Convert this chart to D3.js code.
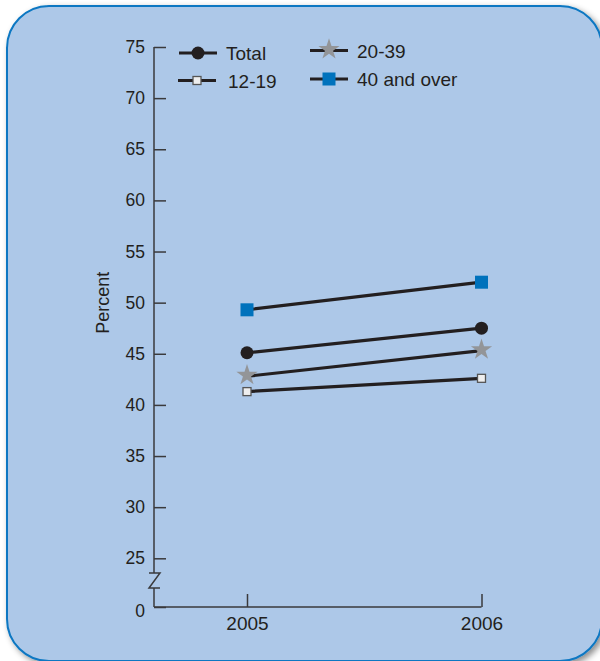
<!DOCTYPE html>
<html>
<head>
<meta charset="utf-8">
<script src="https://cdn.jsdelivr.net/npm/d3@7"></script>
<style>
  html, body { margin: 0; padding: 0; background: #ffffff; }
  svg { display: block; }
  text { font-family: "Liberation Sans", Arial, Helvetica, sans-serif; fill: #231f20; }
</style>
</head>
<body>
<svg id="chart" width="600" height="661"></svg>
<script>
// Share of people by age group, 2005 and 2006 (percent)
const years = [2005, 2006];
const seriesNames = ["Total", "12-19", "20-39", "40 and over"];
const totalValues = [45.1, 47.5];
const teenValues = [41.3, 42.6];
const youngAdultValues = [42.8, 45.3];
const olderValues = [49.3, 52.0];
const yTickValues = [0, 25, 30, 35, 40, 45, 50, 55, 60, 65, 70, 75];

const series = [
  { name: seriesNames[0], values: totalValues, marker: "circle" },
  { name: seriesNames[1], values: teenValues, marker: "openSquare" },
  { name: seriesNames[2], values: youngAdultValues, marker: "star" },
  { name: seriesNames[3], values: olderValues, marker: "blueSquare" }
];

const ink = "#231f20";
const svg = d3.select("#chart");

// Rounded panel with soft drop shadow
const defs = svg.append("defs");
const shadow = defs.append("filter").attr("id", "panelShadow")
  .attr("x", "-10%").attr("y", "-10%").attr("width", "130%").attr("height", "130%");
shadow.append("feDropShadow")
  .attr("dx", 3).attr("dy", 3).attr("stdDeviation", 3)
  .attr("flood-color", "#000").attr("flood-opacity", 0.45);

svg.append("rect")
  .attr("x", 7).attr("y", 6)
  .attr("width", 595).attr("height", 655)
  .attr("rx", 42).attr("ry", 42)
  .attr("fill", "#adc8e8")
  .attr("stroke", "#0a77c2").attr("stroke-width", 2)
  .attr("filter", "url(#panelShadow)");

// Scales: y has a break between 0 and 25
const axisX = 154;
const x = d3.scaleLinear().domain(years).range([247, 481.5]);
const y = d3.scaleLinear().domain([0, 25, 75]).range([607, 558.3, 47]);

const g = svg.append("g");

// Y axis line, broken by a Z mark above zero
const breakTop = 573, breakBottom = 588;
g.append("path")
  .attr("d", `M${axisX},${y(75)}V${breakTop}M${axisX},${breakBottom}V${y(0)}`)
  .attr("stroke", "#3a3a3c").attr("stroke-width", 1.5).attr("fill", "none");
g.append("path")
  .attr("d", `M${axisX - 5},${breakTop}H${axisX + 6}L${axisX - 5},${breakBottom}H${axisX + 6}`)
  .attr("stroke", "#3a3a3c").attr("stroke-width", 1.5).attr("fill", "none");

// Y ticks point inward, labels on the left
const yAxis = d3.axisLeft(y).tickValues(yTickValues).tickSize(-12).tickPadding(9)
  .tickFormat(d3.format("d"));
const yg = g.append("g").attr("transform", `translate(${axisX},0)`).call(yAxis);
yg.select(".domain").remove();
yg.selectAll(".tick line").attr("stroke", "#3a3a3c").attr("stroke-width", 1.5);
yg.selectAll(".tick text")
  .attr("fill", ink).style("font-size", "17.5px")
  .style("font-family", '"Liberation Sans", Arial, sans-serif');
yg.selectAll(".tick").filter(d => d === 0).select("text").attr("dy", "0.55em");

// X axis: baseline from the y axis to the last year, ticks pointing up
g.append("path")
  .attr("d", `M${axisX},${y(0)}H${x(years[1])}`)
  .attr("stroke", "#3a3a3c").attr("stroke-width", 1.5).attr("fill", "none");
const xAxis = d3.axisBottom(x).tickValues(years).tickSize(-13).tickPadding(10)
  .tickFormat(d3.format("d"));
const xg = g.append("g").attr("transform", `translate(0,${y(0)})`).call(xAxis);
xg.select(".domain").remove();
xg.selectAll(".tick line").attr("stroke", "#3a3a3c").attr("stroke-width", 1.5);
xg.selectAll(".tick text")
  .attr("fill", ink).style("font-size", "19px")
  .style("font-family", '"Liberation Sans", Arial, sans-serif');

// Axis title
svg.append("text")
  .attr("transform", `translate(109,${y(50)}) rotate(-90)`)
  .attr("text-anchor", "middle")
  .style("font-size", "18px")
  .text("Percent");

// Marker drawing
const star = d3.symbol().type(d3.symbolStar).size(140);
function drawMarker(sel, kind, cx, cy, scale) {
  const k = scale || 1;
  if (kind === "circle") {
    sel.append("circle").attr("cx", cx).attr("cy", cy).attr("r", 6.5 * k).attr("fill", ink);
  } else if (kind === "openSquare") {
    const s = 8 * k;
    sel.append("rect").attr("x", cx - s / 2).attr("y", cy - s / 2)
      .attr("width", s).attr("height", s)
      .attr("fill", "#eeeeee").attr("stroke", "#555555").attr("stroke-width", 1.3);
  } else if (kind === "star") {
    sel.append("path").attr("d", star()).attr("transform", `translate(${cx},${cy - 1}) scale(${k})`)
      .attr("fill", "#939598");
  } else if (kind === "blueSquare") {
    const s = 13 * k;
    sel.append("rect").attr("x", cx - s / 2).attr("y", cy - s / 2)
      .attr("width", s).attr("height", s).attr("fill", "#0072bc");
  }
}

// Lines and markers
const line = d3.line().x((d, i) => x(years[i])).y(d => y(d));
const plot = svg.append("g");
series.forEach(s => {
  plot.append("path").datum(s.values).attr("d", line)
    .attr("fill", "none").attr("stroke", ink).attr("stroke-width", 3.2);
});
series.forEach(s => {
  s.values.forEach((v, i) => drawMarker(plot, s.marker, x(years[i]), y(v)));
});

// Legend: two columns, two rows
const legendPos = [
  { lx: 179, ly: 53 }, // Total
  { lx: 178, ly: 80.5 }, // 12-19
  { lx: 310, ly: 50.5 }, // 20-39
  { lx: 310, ly: 79 }  // 40 and over
];
const legend = svg.append("g");
series.forEach((s, i) => {
  const p = legendPos[i];
  const lg = legend.append("g");
  lg.append("line").attr("x1", p.lx).attr("x2", p.lx + 38)
    .attr("y1", p.ly).attr("y2", p.ly)
    .attr("stroke", ink).attr("stroke-width", 3.2);
  drawMarker(lg, s.marker, p.lx + 19, p.ly);
  lg.append("text")
    .attr("x", i === 1 ? p.lx + 50 : p.lx + 47)
    .attr("y", p.ly + 7)
    .style("font-size", "19px")
    .text(s.name);
});
</script>
</body>
</html>
